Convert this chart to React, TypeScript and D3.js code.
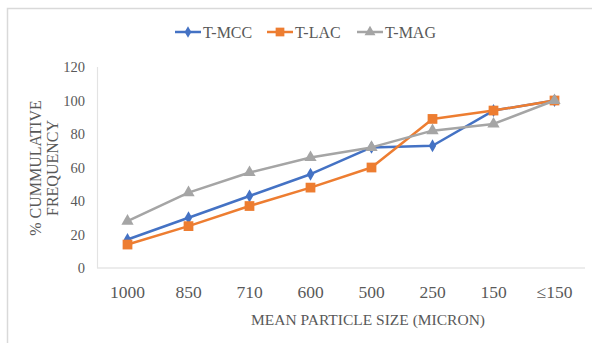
import * as d3 from "d3";
import { useEffect, useRef } from "react";

const sizes = ["1000", "850", "710", "600", "500", "250", "150", "≤150"];
const mcc = [17, 30, 43, 56, 72, 73, 94, 100];
const lac = [14, 25, 37, 48, 60, 89, 94, 100];
const mag = [28, 45, 57, 66, 72, 82, 86, 100];
const yTicks = [0, 20, 40, 60, 80, 100, 120];

const W = 592;
const H = 343;
const font = "'Liberation Serif', 'Times New Roman', serif";

export default function App() {
  const ref = useRef<SVGSVGElement>(null);

  useEffect(() => {
    const svg = d3.select(ref.current);
    svg.selectAll("*").remove();

    // outer frame (partly clipped, like the source screenshot)
    svg.append("rect").attr("x", 7.5).attr("y", 8.5).attr("width", W).attr("height", H)
      .attr("fill", "none").attr("stroke", "#d9d9d9").attr("stroke-width", 1.5);

    const x = d3.scaleBand().domain(sizes).range([97, 585]);
    const y = d3.scaleLinear().domain([0, 120]).range([268, 67]);
    const cx = (d: string) => (x(d) as number) + x.bandwidth() / 2;

    // axis lines
    svg.append("line").attr("x1", 97).attr("x2", 585).attr("y1", y(0)).attr("y2", y(0))
      .attr("stroke", "#d9d9d9").attr("stroke-width", 1.2);
    svg.append("line").attr("x1", 97.5).attr("x2", 97.5).attr("y1", y(120)).attr("y2", y(0))
      .attr("stroke", "#e3e3e3").attr("stroke-width", 1.2);

    svg.selectAll(".ytick").data(yTicks).enter().append("text")
      .attr("x", 85).attr("y", d => y(d)).attr("dy", "0.35em")
      .attr("text-anchor", "end").attr("fill", "#595959")
      .style("font", `14.5px ${font}`).text(d => d);

    svg.selectAll(".xtick").data(sizes).enter().append("text")
      .attr("x", d => cx(d)).attr("y", 292).attr("dy", "0.35em")
      .attr("text-anchor", "middle").attr("fill", "#595959")
      .style("font", `17.5px ${font}`).text(d => d);

    svg.append("text").attr("x", 368).attr("y", 320).attr("dy", "0.35em")
      .attr("text-anchor", "middle").attr("fill", "#595959")
      .style("font", `15.5px ${font}`).text("MEAN PARTICLE SIZE (MICRON)");

    const yt = svg.append("text").attr("transform", "translate(44,168) rotate(-90)")
      .attr("text-anchor", "middle").attr("fill", "#595959").style("font", `16px ${font}`);
    yt.append("tspan").attr("x", 0).attr("y", -3).text("% CUMMULATIVE");
    yt.append("tspan").attr("x", 0).attr("y", 14).text("FREQUENCY");

    const series = [
      { name: "T-MCC", values: mcc, color: "#4472C4", shape: d3.symbolDiamond, size: 48 },
      { name: "T-LAC", values: lac, color: "#ED7D31", shape: d3.symbolSquare, size: 95 },
      { name: "T-MAG", values: mag, color: "#A5A5A5", shape: d3.symbolTriangle, size: 65 },
    ];

    const line = d3.line<number>().x((_, i) => cx(sizes[i])).y(d => y(d));

    for (const s of series) {
      svg.append("path").attr("d", line(s.values)).attr("fill", "none")
        .attr("stroke", s.color).attr("stroke-width", 2.5).attr("stroke-linejoin", "round");
      svg.selectAll(".pt-" + s.name).data(s.values).enter().append("path")
        .attr("d", d3.symbol().type(s.shape).size(s.size)())
        .attr("transform", (d, i) => `translate(${cx(sizes[i])},${y(d)})`)
        .attr("fill", s.color);
    }

    // legend
    const legX = [175, 267, 357];
    series.forEach((s, i) => {
      const g = svg.append("g").attr("transform", `translate(${legX[i]},32)`);
      g.append("line").attr("x1", 0).attr("x2", 26).attr("stroke", s.color).attr("stroke-width", 2.5);
      g.append("path").attr("d", d3.symbol().type(s.shape).size(s.size * 0.8)())
        .attr("transform", "translate(13,0)").attr("fill", s.color);
      g.append("text").attr("x", 28).attr("dy", "0.35em").attr("fill", "#595959")
        .style("font", `16px ${font}`).text(s.name);
    });
  }, []);

  return (
    <div style={{ position: "absolute", left: 0, top: 0 }}>
      <svg ref={ref} width={W} height={H} style={{ display: "block", background: "#fff" }} />
    </div>
  );
}
